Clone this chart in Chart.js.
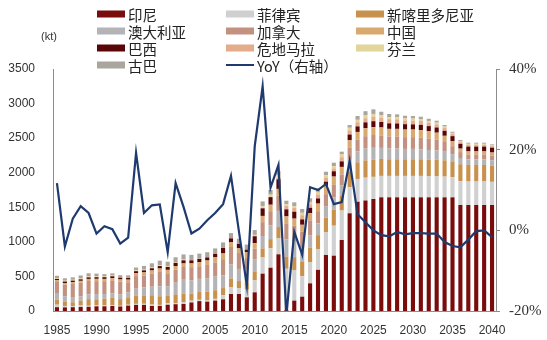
<!DOCTYPE html>
<html>
<head>
<meta charset="utf-8">
<script src="https://cdn.jsdelivr.net/npm/chart.js@4/dist/chart.umd.min.js"></script>
<style>
  html, body { margin: 0; padding: 0; background: #fff; }
  #wrap { width: 547px; height: 340px; }
</style>
</head>
<body>
<div id="wrap"><canvas id="chart" width="547" height="340"></canvas></div>
<script>
const years = ['1985','1986','1987','1988','1989','1990','1991','1992','1993','1994',
  '1995','1996','1997','1998','1999','2000','2001','2002','2003','2004',
  '2005','2006','2007','2008','2009','2010','2011','2012','2013','2014',
  '2015','2016','2017','2018','2019','2020','2021','2022','2023','2024',
  '2025','2026','2027','2028','2029','2030','2031','2032','2033','2034',
  '2035','2036','2037','2038','2039','2040'];

// kt
const indonesia = [55, 52, 55, 58, 60, 68, 68, 72, 65, 78,
  88, 88, 72, 74, 90, 98, 102, 123, 143, 135,
  150, 169, 246, 246, 198, 270, 540, 626, 820, 15,
  150, 207, 400, 595, 810, 800, 1027, 1413, 1580, 1598,
  1620, 1644, 1644, 1644, 1644, 1644, 1644, 1644, 1644, 1644,
  1644, 1533, 1533, 1533, 1533, 1533];
const philippines = [36, 21, 15, 20, 15, 16, 14, 12, 10, 12,
  15, 16, 20, 14, 24, 17, 27, 27, 19, 17,
  26, 60, 100, 85, 110, 173, 234, 281, 230, 595,
  443, 295, 303, 302, 332, 434, 426, 376, 330, 330,
  320, 310, 310, 310, 310, 310, 310, 305, 305, 300,
  290, 345, 340, 340, 340, 335];
const newCaledonia = [72, 65, 57, 69, 96, 85, 95, 111, 97, 97,
  121, 122, 136, 125, 110, 126, 118, 100, 112, 130,
  124, 103, 125, 102, 100, 130, 131, 132, 164, 178,
  186, 207, 215, 200, 208, 230, 210, 230, 240, 250,
  250, 245, 240, 240, 240, 240, 240, 240, 240, 235,
  230, 245, 240, 240, 240, 235];
const australia = [86, 77, 75, 62, 67, 67, 69, 58, 65, 79,
  99, 113, 123, 144, 135, 168, 205, 195, 191, 187,
  205, 185, 200, 175, 190, 170, 180, 200, 234, 245,
  222, 204, 179, 170, 159, 180, 151, 180, 160, 170,
  170, 160, 155, 155, 150, 150, 145, 140, 135, 125,
  105, 90, 80, 80, 80, 78];
const canada = [170, 164, 189, 199, 196, 196, 185, 190, 188, 150,
  182, 175, 188, 208, 186, 191, 184, 189, 182, 197,
  198, 233, 255, 230, 170, 158, 200, 205, 223, 235,
  235, 236, 214, 176, 181, 180, 160, 160, 170, 180,
  185, 180, 175, 175, 170, 170, 170, 165, 155, 140,
  115, 85, 70, 70, 70, 68];
const china = [25, 26, 27, 28, 30, 33, 33, 33, 31, 37,
  42, 44, 47, 49, 50, 51, 52, 54, 61, 64,
  73, 82, 67, 68, 80, 80, 90, 93, 95, 100,
  100, 98, 103, 110, 120, 120, 110, 110, 110, 115,
  115, 115, 110, 110, 110, 110, 108, 105, 100, 90,
  75, 50, 45, 45, 45, 43];
const brazil = [20, 21, 21, 22, 23, 24, 25, 26, 27, 28,
  29, 30, 32, 36, 42, 45, 45, 45, 45, 45,
  52, 82, 58, 67, 40, 100, 110, 110, 138, 102,
  100, 78, 79, 75, 60, 77, 80, 83, 80, 85,
  85, 80, 80, 78, 78, 75, 75, 75, 75, 72,
  70, 70, 70, 70, 70, 70];
const guatemala = [0, 0, 0, 0, 0, 0, 0, 0, 0, 0,
  0, 0, 0, 0, 0, 0, 0, 0, 0, 0,
  0, 0, 0, 0, 0, 0, 0, 0, 20, 50,
  55, 60, 50, 57, 60, 40, 60, 60, 60, 60,
  65, 60, 60, 60, 55, 55, 55, 50, 45, 40,
  30, 25, 25, 25, 25, 22];
const finland = [12, 12, 12, 12, 12, 11, 10, 10, 8, 8,
  10, 10, 10, 10, 10, 10, 10, 3, 3, 3,
  3, 3, 3, 3, 3, 20, 30, 35, 35, 25,
  25, 35, 35, 38, 35, 35, 40, 38, 35, 40,
  40, 35, 30, 30, 30, 30, 28, 25, 25, 22,
  18, 15, 15, 15, 15, 14];
const cuba = [34, 35, 36, 44, 47, 41, 34, 32, 27, 27,
  43, 54, 62, 68, 66, 71, 75, 76, 74, 72,
  74, 75, 73, 70, 70, 70, 70, 68, 66, 50,
  56, 55, 52, 51, 49, 49, 40, 40, 55, 62,
  66, 53, 45, 42, 37, 36, 35, 31, 28, 22,
  16, 15, 16, 16, 16, 12];
// %
const yoy = [11.7, -4.0, 2.9, 6.0, 4.3, -0.8, 1.0, 0.3, -3.3, -1.8,
  19.2, 4.3, 6.2, 6.4, -5.4, 11.7, 5.8, -0.8, 0.4, 2.5,
  4.3, 6.5, 13.5, -0.2, -13.7, 20.8, 35.7, 10.6, 16.2, -21.0,
  -0.4, -6.0, 10.7, 10.0, 11.5, 6.5, 7.0, 17.2, 4.0, 2.0,
  0.0, -1.2, -1.5, -0.4, -1.0, -0.7, -0.7, -0.8, -0.8, -2.9,
  -3.9, -4.2, -2.3, -0.2, 0.0, -1.7];

const barSeries = [
  { label: '印尼', data: indonesia, color: '#7a0c0c' },
  { label: '菲律宾', data: philippines, color: '#d0d0d0' },
  { label: '新喀里多尼亚', data: newCaledonia, color: '#c8914d' },
  { label: '澳大利亚', data: australia, color: '#b4b4b6' },
  { label: '加拿大', data: canada, color: '#c2917f' },
  { label: '中国', data: china, color: '#d9aa70' },
  { label: '巴西', data: brazil, color: '#5a0608' },
  { label: '危地马拉', data: guatemala, color: '#e4ac8a' },
  { label: '芬兰', data: finland, color: '#e2d59a' },
  { label: '古巴', data: cuba, color: '#aaa59d' }
];
const lineColor = '#1f3a6e';

const datasets = barSeries.map(s => ({
  type: 'bar',
  label: s.label,
  data: s.data,
  backgroundColor: s.color,
  yAxisID: 'y',
  stack: 'prod',
  order: 1,
  categoryPercentage: 1,
  barPercentage: 0.52
}));
datasets.push({
  type: 'line',
  label: 'YoY（右轴）',
  data: yoy,
  borderColor: lineColor,
  borderWidth: 2.2,
  pointRadius: 0,
  tension: 0,
  yAxisID: 'y1',
  order: 0
});

// legend in 3 columns, drawn by hand to keep the grid
const legendPlugin = {
  id: 'gridLegend',
  afterDraw(chart) {
    const ctx = chart.ctx;
    const cols = [97, 226, 356];
    const rows = [14, 31, 48, 65];
    const items = barSeries.map(s => ({ label: s.label, color: s.color, line: false }));
    items.push({ label: 'YoY（右轴）', color: lineColor, line: true });
    ctx.save();
    ctx.font = '14.5px "Noto Sans CJK SC", "Liberation Sans", sans-serif';
    ctx.textBaseline = 'middle';
    ctx.textAlign = 'left';
    items.forEach((it, i) => {
      const x = cols[i % 3];
      const y = rows[Math.floor(i / 3)];
      ctx.fillStyle = it.color;
      if (it.line) {
        ctx.fillRect(x, y - 1, 28, 2);
      } else {
        ctx.fillRect(x, y - 3.5, 28, 7);
      }
      ctx.fillStyle = '#222';
      ctx.fillText(it.label, x + 31, y + 1);
    });
    ctx.font = '11px "Liberation Sans", Arial, sans-serif';
    ctx.textAlign = 'center';
    ctx.fillStyle = '#333';
    ctx.fillText('(kt)', 49, 37);
    ctx.restore();
  }
};

new Chart(document.getElementById('chart'), {
  data: { labels: years, datasets: datasets },
  options: {
    responsive: false,
    animation: false,
    devicePixelRatio: 1,
    layout: { padding: { top: 69, left: 0, right: 0, bottom: 0 } },
    plugins: {
      legend: { display: false },
      tooltip: { enabled: false }
    },
    scales: {
      x: {
        stacked: true,
        grid: { display: false },
        border: { display: true, color: '#8c8c8c', width: 1 },
        ticks: {
          autoSkip: false,
          maxRotation: 0,
          padding: 4,
          color: '#333',
          font: { family: '"Liberation Sans", Arial, sans-serif', size: 12 },
          callback: function(value, index) {
            const y = years[index];
            return Number(y) % 5 === 0 ? y : null;
          }
        },
        afterFit: s => { s.height = 29; }
      },
      y: {
        position: 'left',
        stacked: true,
        min: 0,
        max: 3500,
        grid: { display: false },
        border: { display: true, color: '#8c8c8c', width: 1 },
        ticks: {
          stepSize: 500,
          padding: 10,
          color: '#333',
          font: { family: '"Liberation Sans", Arial, sans-serif', size: 12 },
          callback: v => String(v)
        },
        afterFit: s => { s.width = 53; }
      },
      y1: {
        position: 'right',
        min: -20,
        max: 40,
        grid: { display: true, drawOnChartArea: false, drawTicks: true, tickLength: 4, color: '#8c8c8c' },
        border: { display: true, color: '#8c8c8c', width: 1 },
        ticks: {
          stepSize: 20,
          padding: 9,
          color: '#333',
          font: { family: '"Liberation Serif", "Times New Roman", serif', size: 15 },
          callback: v => v + '%'
        },
        afterFit: s => { s.width = 51; }
      }
    }
  },
  plugins: [legendPlugin]
});
</script>
</body>
</html>
